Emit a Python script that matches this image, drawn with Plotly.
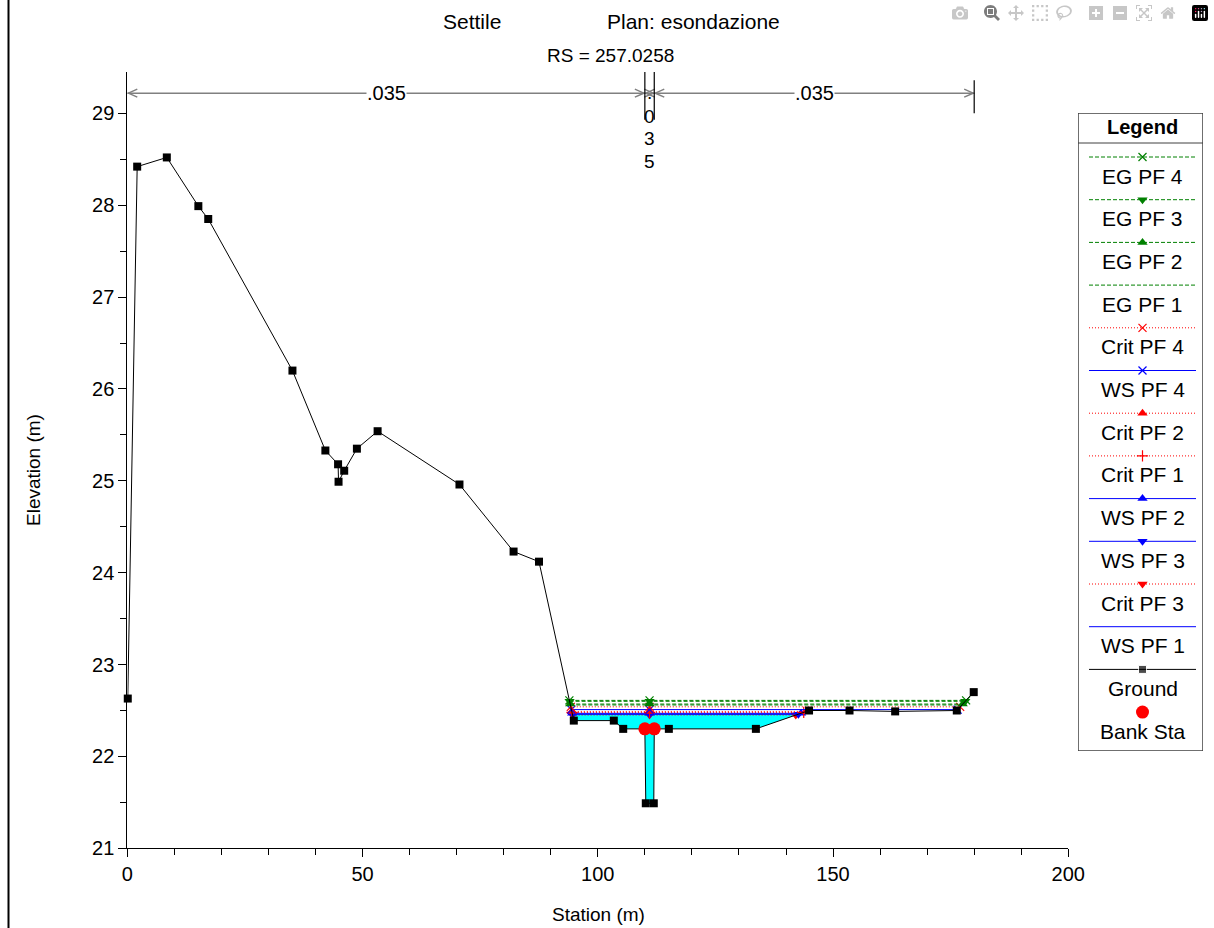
import numpy as np
import plotly.graph_objects as go

# ---------------- data ----------------
ground_sta = [0.1, 2.1, 8.4, 15.1, 17.2, 35.1, 42.1, 44.8, 44.9, 46.1, 48.8, 53.2,
              70.6, 82.1, 87.5, 94.9, 103.4, 105.4, 110.0, 110.2, 111.9, 112.0,
              115.1, 133.6, 144.9, 153.5, 163.2, 176.3, 179.9]
ground_elev = [22.63, 28.42, 28.52, 27.99, 27.85, 26.20, 25.33, 25.18, 24.99, 25.11,
               25.35, 25.54, 24.96, 24.23, 24.12, 22.39, 22.39, 22.30, 22.30, 21.49,
               21.49, 22.30, 22.30, 22.30, 22.50, 22.50, 22.49, 22.50, 22.70]
bank_sta = [110.0, 112.0]
bank_elev = [22.30, 22.30]

profile_names = ['EG PF 4', 'EG PF 3', 'EG PF 2', 'EG PF 1', 'Crit PF 4', 'WS PF 4',
                 'Crit PF 2', 'Crit PF 1', 'WS PF 2', 'WS PF 3', 'Crit PF 3', 'WS PF 1']
profile_levels = [22.61, 22.60, 22.57, 22.56, 22.54, 22.51,
                  22.49, 22.48, 22.47, 22.46, 22.45, 22.46]

n_values = ['.035', '.035', '.035']
n_breaks = [0.0, 110.0, 112.0, 180.0]

title_left = 'Settile'
title_right = 'Plan: esondazione'
subtitle = 'RS = 257.0258'

# ---------------- styles ----------------
GREEN = '#008000'
RED = '#FF0000'
BLUE = '#0000FF'
styles = {
    'EG PF 4': (GREEN, '4px,2px', 'x-thin'),
    'EG PF 3': (GREEN, '4px,2px', 'triangle-down'),
    'EG PF 2': (GREEN, '4px,2px', 'triangle-up'),
    'EG PF 1': (GREEN, '4px,2px', None),
    'Crit PF 4': (RED, '1px,2px', 'x-thin'),
    'WS PF 4': (BLUE, 'solid', 'x-thin'),
    'Crit PF 2': (RED, '1px,2px', 'triangle-up'),
    'Crit PF 1': (RED, '1px,2px', 'cross-thin'),
    'WS PF 2': (BLUE, 'solid', 'triangle-up'),
    'WS PF 3': (BLUE, 'solid', 'triangle-down'),
    'Crit PF 3': (RED, '1px,2px', 'triangle-down'),
    'WS PF 1': (BLUE, 'solid', None),
}

FONT = 'Arial, Liberation Sans, sans-serif'
W, H = 1214, 928

gs = np.array(ground_sta)
ge = np.array(ground_elev)
ic = int(np.argmin(ge))  # channel invert


def crossings(level):
    i = ic
    while ge[i - 1] < level:
        i -= 1
    a, b = i - 1, i
    xl = gs[a] + (ge[a] - level) / (ge[a] - ge[b]) * (gs[b] - gs[a])
    j = ic
    while ge[j + 1] < level:
        j += 1
    c, d = j, j + 1
    xr = gs[c] + (level - ge[c]) / (ge[d] - ge[c]) * (gs[d] - gs[c])
    return xl, xr, b, j


def marker_dict(color, sym, size=9):
    m = dict(symbol=sym, color=color, size=size)
    if sym in ('x-thin', 'cross-thin'):
        m['size'] = 8
        m['line'] = dict(color=color, width=1.2)
    else:
        m['line'] = dict(width=0)
    return m


def px_x(p):
    return p / W


def px_y(p):
    return 1 - p / H


fig = go.Figure()

# water fill (WS PF 1)
fill_level = profile_levels[profile_names.index('WS PF 1')]
xl, xr, b, j = crossings(fill_level)
fx = [xl] + list(gs[b:j + 1]) + [xr]
fy = [fill_level] + list(ge[b:j + 1]) + [fill_level]
fig.add_trace(go.Scatter(x=fx, y=fy, fill='toself', fillcolor='#00FFFF', mode='none',
                         showlegend=False, hoverinfo='skip'))

mid = (bank_sta[0] + bank_sta[1]) / 2
for name, lvl in reversed(list(zip(profile_names, profile_levels))):
    color, dash, sym = styles[name]
    xl, xr, _, _ = crossings(lvl)
    fig.add_trace(go.Scatter(x=[xl, xr], y=[lvl, lvl], mode='lines',
                             line=dict(color=color, width=1, dash=dash),
                             showlegend=False, cliponaxis=False, hoverinfo='skip'))
    if sym:
        fig.add_trace(go.Scatter(x=[xl, mid, xr], y=[lvl] * 3, mode='markers',
                                 marker=marker_dict(color, sym), showlegend=False,
                                 cliponaxis=False, name=name))

fig.add_trace(go.Scatter(x=ground_sta, y=ground_elev, mode='lines+markers',
                         line=dict(color='black', width=1),
                         marker=dict(symbol='square', size=8, color='black'),
                         showlegend=False, cliponaxis=False, name='Ground'))
fig.add_trace(go.Scatter(x=bank_sta, y=bank_elev, mode='markers',
                         marker=dict(symbol='circle', size=13, color=RED),
                         showlegend=False, cliponaxis=False, name='Bank Sta'))

# ---------------- custom legend (axes x2/y2 in pixel units) ----------------
legend_entries = profile_names + ['Ground', 'Bank Sta']
LX0, LX1, LY0, LY1 = 1078, 1203, 113, 751
sample_x0, sample_x1, sample_xc = 1089, 1196, 1142.5
first_y, step = 157, 42.7
annotations = []
for k, name in enumerate(legend_entries):
    ly = first_y + step * k
    if name in styles:
        color, dash, sym = styles[name]
        fig.add_trace(go.Scatter(x=[sample_x0, sample_x1], y=[ly, ly], mode='lines',
                                 line=dict(color=color, width=1, dash=dash),
                                 xaxis='x2', yaxis='y2', showlegend=False, hoverinfo='skip'))
        if sym:
            fig.add_trace(go.Scatter(x=[sample_xc], y=[ly], mode='markers',
                                     marker=marker_dict(color, sym), xaxis='x2', yaxis='y2',
                                     showlegend=False, hoverinfo='skip'))
    elif name == 'Ground':
        fig.add_trace(go.Scatter(x=[sample_x0, sample_xc, sample_x1], y=[ly] * 3, mode='lines+markers',
                                 line=dict(color='black', width=1),
                                 marker=dict(symbol='square', size=[0, 8, 0], color='black'),
                                 xaxis='x2', yaxis='y2', showlegend=False, hoverinfo='skip'))
    else:
        fig.add_trace(go.Scatter(x=[sample_xc], y=[ly], mode='markers',
                                 marker=dict(symbol='circle', size=13, color=RED),
                                 xaxis='x2', yaxis='y2', showlegend=False, hoverinfo='skip'))
    annotations.append(dict(text=name, x=sample_xc, y=ly + 19, xref='x2', yref='y2',
                            showarrow=False, xanchor='center', yanchor='middle',
                            font=dict(family=FONT, size=21, color='black')))
annotations.append(dict(text='<b>Legend</b>', x=sample_xc, y=127, xref='x2', yref='y2',
                        showarrow=False, xanchor='center', yanchor='middle',
                        font=dict(family=FONT, size=20, color='black')))

shapes = [
    dict(type='rect', xref='x2', yref='y2', x0=LX0, x1=LX1, y0=LY0, y1=LY1,
         line=dict(color='#404040', width=1.5), layer='below'),
    dict(type='line', xref='x2', yref='y2', x0=LX0, x1=LX1, y0=143, y1=143,
         line=dict(color='#404040', width=1)),
    dict(type='line', xref='paper', yref='paper', x0=px_x(8.5), x1=px_x(8.5), y0=0, y1=1,
         line=dict(color='black', width=2)),
]

# ---------------- Manning's n brackets ----------------
n_y = 29.22
GRAY = '#808080'
for k in range(len(n_values)):
    s0, s1 = n_breaks[k], n_breaks[k + 1]
    shapes.append(dict(type='line', xref='x', yref='y', x0=s0, x1=s1, y0=n_y, y1=n_y,
                       line=dict(color=GRAY, width=1.5)))
    shapes.append(dict(type='path', xref='x', yref='y', xsizemode='pixel', ysizemode='pixel',
                       xanchor=s0, yanchor=n_y, path='M 10,4 L 1,0 L 10,-4',
                       line=dict(color=GRAY, width=1.5)))
    shapes.append(dict(type='path', xref='x', yref='y', xsizemode='pixel', ysizemode='pixel',
                       xanchor=s1, yanchor=n_y, path='M -10,4 L -1,0 L -10,-4',
                       line=dict(color=GRAY, width=1.5)))
    if s1 - s0 > 10:
        annotations.append(dict(text=n_values[k], x=(s0 + s1) / 2, y=n_y, xref='x', yref='y',
                                showarrow=False, bgcolor='white', borderpad=0,
                                font=dict(family=FONT, size=20, color='black')))
    else:
        # narrow channel: value written vertically, one character per line
        char_px = [92, 116, 139, 161]
        for ch, py in zip(n_values[k], char_px):
            annotations.append(dict(text=ch, x=(s0 + s1) / 2, y=px_y(py), xref='x', yref='paper',
                                    showarrow=False, xanchor='center', yanchor='middle',
                                    font=dict(family=FONT, size=19, color='black')))
# bracket verticals
shapes.append(dict(type='line', xref='x', yref='y', x0=n_breaks[1], x1=n_breaks[1], y0=28.93, y1=29.45,
                   line=dict(color='black', width=1.2)))
shapes.append(dict(type='line', xref='x', yref='y', x0=n_breaks[2], x1=n_breaks[2], y0=28.93, y1=29.45,
                   line=dict(color='black', width=1.2)))
shapes.append(dict(type='line', xref='x', yref='y', x0=n_breaks[3], x1=n_breaks[3], y0=29.0, y1=29.36,
                   line=dict(color='black', width=1.2)))

# titles
annotations += [
    dict(text=title_left, x=px_x(441), y=px_y(22), xref='paper', yref='paper', showarrow=False,
         xanchor='left', yanchor='middle', font=dict(family=FONT, size=21, color='black')),
    dict(text=title_right, x=px_x(782), y=px_y(22), xref='paper', yref='paper', showarrow=False,
         xanchor='right', yanchor='middle', font=dict(family=FONT, size=21, color='black')),
    dict(text=subtitle, x=px_x(610), y=px_y(55), xref='paper', yref='paper', showarrow=False,
         xanchor='center', yanchor='middle', font=dict(family=FONT, size=19, color='black')),
    dict(text='Station (m)', x=px_x(598), y=px_y(914), xref='paper', yref='paper', showarrow=False,
         xanchor='center', yanchor='middle', font=dict(family=FONT, size=19, color='black')),
    dict(text='Elevation (m)', x=px_x(33), y=px_y(470), xref='paper', yref='paper', showarrow=False,
         textangle=-90, xanchor='center', yanchor='middle',
         font=dict(family=FONT, size=19, color='black')),
]

fig.update_layout(
    width=W, height=H, margin=dict(l=0, r=0, t=0, b=0, autoexpand=False),
    paper_bgcolor='white', plot_bgcolor='white', showlegend=False,
    font=dict(family=FONT, color='black'),
    xaxis=dict(domain=[px_x(127.3), px_x(1068.3)], range=[0, 200], showgrid=False, zeroline=False,
               automargin=False,
               showline=True, linecolor='black', linewidth=1, ticks='outside', ticklen=8,
               tickcolor='black', tickvals=[0, 50, 100, 150, 200],
               tickfont=dict(family=FONT, size=20, color='black'),
               minor=dict(ticks='outside', ticklen=6, dtick=10, tickcolor='black', showgrid=False)),
    yaxis=dict(domain=[px_y(848.3), px_y(72)], range=[21, 29.45], showgrid=False,
               zeroline=False, automargin=False,
               showline=True, linecolor='black', linewidth=1, ticks='outside',
               ticklen=8, tickcolor='black', tickvals=[21, 22, 23, 24, 25, 26, 27, 28, 29],
               tickfont=dict(family=FONT, size=20, color='black'),
               minor=dict(ticks='outside', ticklen=6, dtick=0.5, tickcolor='black', showgrid=False)),
    xaxis2=dict(domain=[px_x(LX0), px_x(LX1)], range=[LX0, LX1], visible=False, anchor='y2',
                automargin=False),
    yaxis2=dict(domain=[px_y(LY1), px_y(LY0)], range=[LY1, LY0], visible=False, anchor='x2',
                automargin=False),
    shapes=shapes, annotations=annotations,
)

fig.write_html('out.html', post_script="document.body.style.margin='0';document.body.style.overflow='hidden';")
